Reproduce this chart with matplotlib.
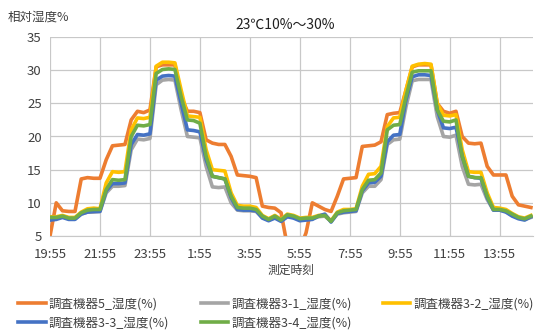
import numpy as np
import matplotlib
matplotlib.use("Agg")
import matplotlib.pyplot as plt

plt.rcParams['font.family'] = ['Noto Sans CJK JP', 'DejaVu Sans']

# Sampling: every 15 minutes starting at 19:55
step_min = 15
tick_labels = ["19:55", "21:55", "23:55", "1:55", "3:55", "5:55",
               "7:55", "9:55", "11:55", "13:55"]

series_names = ["調査機器5_湿度(%)", "調査機器3-1_湿度(%)", "調査機器3-2_湿度(%)",
                "調査機器3-3_湿度(%)", "調査機器3-4_湿度(%)"]

rh_5 = [5.0, 10.0, 8.8, 8.7, 8.7, 13.6, 13.8, 13.7, 13.7, 16.5, 18.6, 18.7, 18.8,
        22.5, 23.8, 23.6, 24.0, 30.5, 30.8, 30.8, 30.8, 26.0, 23.8, 23.8, 23.6,
        19.5, 19.0, 18.8, 18.8, 17.0, 14.2, 14.1, 14.0, 13.8, 9.5, 9.3, 9.2, 8.5,
        3.5, 2.5, 3.0, 5.5, 10.0, 9.5, 9.0, 8.7, 11.0, 13.6, 13.7, 13.8, 18.5,
        18.6, 18.7, 19.2, 23.3, 23.5, 23.6, 27.0, 30.5, 30.8, 30.8, 30.8, 25.0,
        23.8, 23.5, 23.8, 20.0, 19.0, 18.9, 19.0, 15.5, 14.2, 14.2, 14.2, 11.0,
        9.7, 9.5, 9.3]

rh_3_1 = [7.7, 7.8, 7.9, 7.6, 7.6, 8.3, 8.6, 8.6, 8.7, 11.5, 12.5, 12.5, 12.6,
          18.0, 19.6, 19.5, 19.7, 27.8, 28.5, 28.6, 28.5, 24.0, 20.0, 19.9, 19.8,
          15.5, 12.4, 12.3, 12.4, 10.0, 8.9, 8.8, 8.8, 8.7, 7.8, 7.4, 7.8, 7.3,
          8.0, 7.8, 7.5, 7.6, 7.6, 7.9, 8.0, 7.2, 8.3, 8.5, 8.6, 8.7, 11.5, 12.5,
          12.5, 13.5, 18.8, 19.5, 19.6, 24.5, 28.4, 28.6, 28.6, 28.6, 23.0, 20.0,
          19.9, 20.2, 15.5, 12.8, 12.7, 12.8, 10.5, 8.9, 8.9, 8.7, 8.1, 7.7, 7.5,
          7.8]

rh_3_2 = [7.9, 7.9, 8.1, 7.8, 7.8, 8.6, 9.1, 9.2, 9.1, 13.0, 14.7, 14.6, 14.7,
          21.0, 22.8, 22.7, 22.9, 30.6, 31.2, 31.2, 31.1, 27.0, 23.1, 23.0, 22.9,
          18.0, 15.0, 14.9, 14.8, 11.5, 9.6, 9.5, 9.5, 9.3, 8.1, 7.6, 8.1, 7.5,
          8.3, 8.1, 7.7, 7.8, 7.8, 8.1, 8.2, 7.3, 8.6, 9.0, 9.0, 9.1, 12.5, 14.3,
          14.4, 15.5, 21.5, 22.8, 22.9, 27.0, 30.6, 30.9, 31.0, 30.9, 25.0, 23.2,
          23.1, 23.3, 18.0, 14.7, 14.6, 14.6, 11.5, 9.3, 9.2, 9.0, 8.4, 7.9, 7.7,
          8.1]

rh_3_3 = [7.4, 7.5, 7.8, 7.5, 7.5, 8.3, 8.6, 8.7, 8.7, 11.8, 12.9, 12.9, 13.0,
          18.8, 20.3, 20.2, 20.4, 28.5, 29.1, 29.2, 29.1, 25.0, 21.0, 20.9, 20.7,
          16.5, 14.0, 13.8, 13.6, 10.8, 9.0, 8.9, 8.9, 8.8, 7.7, 7.3, 7.7, 7.2,
          7.9, 7.7, 7.3, 7.4, 7.5, 8.0, 8.3, 7.1, 8.4, 8.6, 8.7, 8.8, 11.8, 13.0,
          13.1, 14.0, 19.2, 20.2, 20.3, 25.5, 29.0, 29.3, 29.3, 29.2, 24.0, 21.3,
          21.2, 21.4, 17.0, 14.0, 13.8, 13.7, 10.8, 8.9, 8.9, 8.6, 8.0, 7.6, 7.4,
          7.9]

rh_3_4 = [7.8, 7.8, 8.0, 7.7, 7.7, 8.5, 8.9, 9.0, 9.0, 12.0, 13.5, 13.4, 13.5,
          20.0, 21.7, 21.6, 21.8, 29.5, 30.1, 30.2, 30.1, 26.0, 22.5, 22.4, 22.0,
          17.0, 14.0, 13.8, 13.6, 11.0, 9.3, 9.2, 9.2, 9.0, 8.0, 7.5, 8.0, 7.4,
          8.2, 8.0, 7.6, 7.7, 7.7, 8.0, 8.1, 7.2, 8.5, 8.8, 8.9, 9.0, 12.0, 13.4,
          13.5, 14.5, 21.0, 21.7, 21.8, 26.0, 29.7, 29.9, 29.9, 29.9, 24.0, 22.3,
          22.2, 22.5, 17.0, 14.0, 13.8, 13.8, 11.0, 9.0, 9.0, 8.8, 8.3, 7.8, 7.6,
          8.0]

colors = ["#ED7D31", "#A5A5A5", "#FFC000", "#4472C4", "#70AD47"]
all_series = [rh_5, rh_3_1, rh_3_2, rh_3_3, rh_3_4]

fig = plt.figure(figsize=(5.6, 3.36), dpi=100)
ax = fig.add_axes([50 / 560, 1 - 236 / 336, 483 / 560, 199 / 336])

minutes = np.arange(len(rh_5)) * step_min
handles = []
for vals, col, name in zip(all_series, colors, series_names):
    h, = ax.plot(minutes, vals, color=col, lw=2.6, label=name, solid_joinstyle='round')
    handles.append(h)

ax.set_ylim(5, 35)
ax.set_yticks(range(5, 36, 5))
ax.set_xlim(0, minutes[-1] + 5)
ax.set_xticks(np.arange(len(tick_labels)) * 120)
ax.set_xticklabels(tick_labels)
ax.grid(True, color="#c8c8c8", lw=0.9)
ax.set_axisbelow(True)
for s in ["top", "right", "left"]:
    ax.spines[s].set_visible(False)
ax.spines["bottom"].set_color("#c8c8c8")
ax.tick_params(length=0, labelsize=9.5, colors="#404040")
ax.tick_params(axis="x", pad=9)
ax.tick_params(axis="y", pad=6)
ax.set_xlabel("測定時刻", fontsize=8.5, color="#404040", labelpad=2)

fig.text(8 / 560, 1 - 17 / 336, "相対湿度%", fontsize=9, color="#404040", va="center")
fig.text(285 / 560, 1 - 25 / 336, "23℃10%～30%", fontsize=10, color="#202020",
         va="center", ha="center")

# legend reads row by row: reorder for matplotlib's column-wise fill
order = [0, 3, 1, 4, 2]
fig.legend([handles[i] for i in order], [series_names[i] for i in order],
           loc="lower left", bbox_to_anchor=(12 / 560, 0.0), ncol=3, frameon=False,
           fontsize=9, handlelength=2.2, columnspacing=2.5, handletextpad=0.25,
           labelcolor="#404040", borderaxespad=0.1)

fig.savefig("out.png", dpi=100)
